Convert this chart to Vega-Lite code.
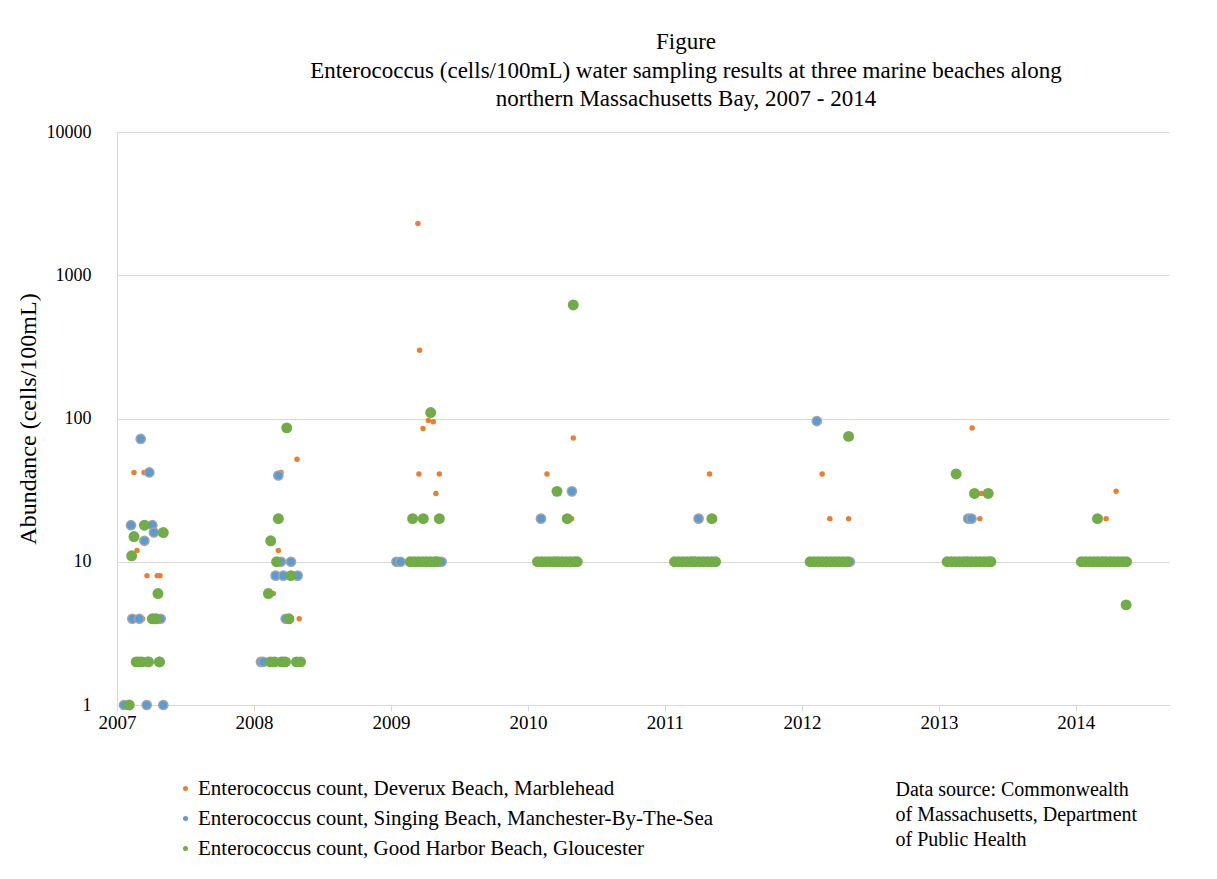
{
  "$schema": "https://vega.github.io/schema/vega-lite/v6.json",
  "width": 1052,
  "height": 573,
  "autosize": "none",
  "padding": {"left": 117, "top": 132, "right": 48, "bottom": 174},
  "background": "white",
  "config": {"view": {"stroke": null}, "font": "Liberation Serif"},
  "title": {
    "text": "Figure",
    "subtitle": ["Enterococcus (cells/100mL)  water sampling results at three marine beaches along", "northern Massachusetts  Bay, 2007 - 2014"],
    "anchor": "middle",
    "dx": 43,
    "offset": 12,
    "font": "Liberation Serif",
    "fontSize": 23,
    "fontWeight": "normal",
    "color": "black",
    "subtitleFont": "Liberation Serif",
    "subtitleFontSize": 23,
    "subtitleColor": "black",
    "subtitleLineHeight": 28,
    "subtitlePadding": 6
  },
  "data": {"values": [
    {"x": 2007.124, "y": 42, "s": "D"}, {"x": 2007.197, "y": 42, "s": "D"}, {"x": 2007.146, "y": 12, "s": "D"}, {"x": 2007.219, "y": 8, "s": "D"}, {"x": 2007.294, "y": 8, "s": "D"}, {"x": 2007.314, "y": 8, "s": "D"}, {"x": 2007.187, "y": 4, "s": "D"}, {"x": 2007.33, "y": 2, "s": "D"}, {"x": 2007.2, "y": 2, "s": "D"},
    {"x": 2008.314, "y": 52, "s": "D"}, {"x": 2008.197, "y": 42, "s": "D"}, {"x": 2008.178, "y": 12, "s": "D"}, {"x": 2008.141, "y": 6, "s": "D"}, {"x": 2008.33, "y": 4, "s": "D"}, {"x": 2008.2, "y": 2, "s": "D"},
    {"x": 2009.197, "y": 2300, "s": "D"}, {"x": 2009.209, "y": 300, "s": "D"}, {"x": 2009.273, "y": 97, "s": "D"}, {"x": 2009.309, "y": 95, "s": "D"}, {"x": 2009.234, "y": 85, "s": "D"}, {"x": 2009.204, "y": 41, "s": "D"}, {"x": 2009.353, "y": 41, "s": "D"}, {"x": 2009.328, "y": 30, "s": "D"}, {"x": 2009.2, "y": 10, "s": "D"}, {"x": 2009.3, "y": 10, "s": "D"},
    {"x": 2010.331, "y": 73, "s": "D"}, {"x": 2010.139, "y": 41, "s": "D"}, {"x": 2010.319, "y": 20, "s": "D"}, {"x": 2010.2, "y": 10, "s": "D"}, {"x": 2010.3, "y": 10, "s": "D"},
    {"x": 2011.326, "y": 41, "s": "D"}, {"x": 2011.2, "y": 10, "s": "D"},
    {"x": 2012.148, "y": 41, "s": "D"}, {"x": 2012.204, "y": 20, "s": "D"}, {"x": 2012.341, "y": 20, "s": "D"}, {"x": 2012.2, "y": 10, "s": "D"},
    {"x": 2013.243, "y": 86, "s": "D"}, {"x": 2013.31, "y": 30, "s": "D"}, {"x": 2013.299, "y": 20, "s": "D"}, {"x": 2013.2, "y": 10, "s": "D"},
    {"x": 2014.294, "y": 31, "s": "D"}, {"x": 2014.221, "y": 20, "s": "D"}, {"x": 2014.2, "y": 10, "s": "D"},

    {"x": 2007.173, "y": 72, "s": "S"}, {"x": 2007.236, "y": 42, "s": "S"}, {"x": 2007.102, "y": 18, "s": "S"}, {"x": 2007.258, "y": 18, "s": "S"}, {"x": 2007.27, "y": 16, "s": "S"}, {"x": 2007.2, "y": 14, "s": "S"}, {"x": 2007.112, "y": 4, "s": "S"}, {"x": 2007.163, "y": 4, "s": "S"}, {"x": 2007.319, "y": 4, "s": "S"}, {"x": 2007.22, "y": 2, "s": "S"}, {"x": 2007.31, "y": 2, "s": "S"}, {"x": 2007.051, "y": 1, "s": "S"}, {"x": 2007.217, "y": 1, "s": "S"}, {"x": 2007.338, "y": 1, "s": "S"},
    {"x": 2008.178, "y": 40, "s": "S"}, {"x": 2008.197, "y": 10, "s": "S"}, {"x": 2008.27, "y": 10, "s": "S"}, {"x": 2008.158, "y": 8, "s": "S"}, {"x": 2008.214, "y": 8, "s": "S"}, {"x": 2008.319, "y": 8, "s": "S"}, {"x": 2008.231, "y": 4, "s": "S"}, {"x": 2008.051, "y": 2, "s": "S"}, {"x": 2008.068, "y": 2, "s": "S"}, {"x": 2008.214, "y": 2, "s": "S"},
    {"x": 2009.04, "y": 10, "s": "S"}, {"x": 2009.07, "y": 10, "s": "S"}, {"x": 2009.37, "y": 10, "s": "S"},
    {"x": 2010.321, "y": 31, "s": "S"}, {"x": 2010.095, "y": 20, "s": "S"}, {"x": 2010.2, "y": 10, "s": "S"},
    {"x": 2011.246, "y": 20, "s": "S"}, {"x": 2011.2, "y": 10, "s": "S"},
    {"x": 2012.109, "y": 96, "s": "S"}, {"x": 2012.35, "y": 10, "s": "S"},
    {"x": 2013.214, "y": 20, "s": "S"}, {"x": 2013.238, "y": 20, "s": "S"}, {"x": 2013.2, "y": 10, "s": "S"},
    {"x": 2014.2, "y": 10, "s": "S"},

    {"x": 2007.2, "y": 18, "s": "G"}, {"x": 2007.124, "y": 15, "s": "G"}, {"x": 2007.338, "y": 16, "s": "G"}, {"x": 2007.107, "y": 11, "s": "G"}, {"x": 2007.299, "y": 6, "s": "G"}, {"x": 2007.258, "y": 4, "s": "G"}, {"x": 2007.285, "y": 4, "s": "G"}, {"x": 2007.14, "y": 2, "s": "G"}, {"x": 2007.16, "y": 2, "s": "G"}, {"x": 2007.18, "y": 2, "s": "G"}, {"x": 2007.23, "y": 2, "s": "G"}, {"x": 2007.31, "y": 2, "s": "G"}, {"x": 2007.09, "y": 1, "s": "G"},
    {"x": 2008.239, "y": 86, "s": "G"}, {"x": 2008.178, "y": 20, "s": "G"}, {"x": 2008.122, "y": 14, "s": "G"}, {"x": 2008.165, "y": 10, "s": "G"}, {"x": 2008.27, "y": 8, "s": "G"}, {"x": 2008.105, "y": 6, "s": "G"}, {"x": 2008.255, "y": 4, "s": "G"}, {"x": 2008.12, "y": 2, "s": "G"}, {"x": 2008.15, "y": 2, "s": "G"}, {"x": 2008.2, "y": 2, "s": "G"}, {"x": 2008.23, "y": 2, "s": "G"}, {"x": 2008.31, "y": 2, "s": "G"}, {"x": 2008.34, "y": 2, "s": "G"},
    {"x": 2009.29, "y": 110, "s": "G"}, {"x": 2009.158, "y": 20, "s": "G"}, {"x": 2009.236, "y": 20, "s": "G"}, {"x": 2009.353, "y": 20, "s": "G"}, {"x": 2009.14, "y": 10, "s": "G"}, {"x": 2009.17, "y": 10, "s": "G"}, {"x": 2009.2, "y": 10, "s": "G"}, {"x": 2009.23, "y": 10, "s": "G"}, {"x": 2009.26, "y": 10, "s": "G"}, {"x": 2009.29, "y": 10, "s": "G"}, {"x": 2009.32, "y": 10, "s": "G"}, {"x": 2009.34, "y": 10, "s": "G"},
    {"x": 2010.331, "y": 620, "s": "G"}, {"x": 2010.212, "y": 31, "s": "G"}, {"x": 2010.287, "y": 20, "s": "G"}, {"x": 2010.07, "y": 10, "s": "G"}, {"x": 2010.1, "y": 10, "s": "G"}, {"x": 2010.13, "y": 10, "s": "G"}, {"x": 2010.16, "y": 10, "s": "G"}, {"x": 2010.19, "y": 10, "s": "G"}, {"x": 2010.22, "y": 10, "s": "G"}, {"x": 2010.25, "y": 10, "s": "G"}, {"x": 2010.28, "y": 10, "s": "G"}, {"x": 2010.31, "y": 10, "s": "G"}, {"x": 2010.34, "y": 10, "s": "G"}, {"x": 2010.36, "y": 10, "s": "G"},
    {"x": 2011.343, "y": 20, "s": "G"}, {"x": 2011.07, "y": 10, "s": "G"}, {"x": 2011.1, "y": 10, "s": "G"}, {"x": 2011.13, "y": 10, "s": "G"}, {"x": 2011.16, "y": 10, "s": "G"}, {"x": 2011.19, "y": 10, "s": "G"}, {"x": 2011.22, "y": 10, "s": "G"}, {"x": 2011.25, "y": 10, "s": "G"}, {"x": 2011.28, "y": 10, "s": "G"}, {"x": 2011.31, "y": 10, "s": "G"}, {"x": 2011.34, "y": 10, "s": "G"}, {"x": 2011.37, "y": 10, "s": "G"},
    {"x": 2012.341, "y": 75, "s": "G"}, {"x": 2012.06, "y": 10, "s": "G"}, {"x": 2012.09, "y": 10, "s": "G"}, {"x": 2012.12, "y": 10, "s": "G"}, {"x": 2012.15, "y": 10, "s": "G"}, {"x": 2012.18, "y": 10, "s": "G"}, {"x": 2012.21, "y": 10, "s": "G"}, {"x": 2012.24, "y": 10, "s": "G"}, {"x": 2012.27, "y": 10, "s": "G"}, {"x": 2012.3, "y": 10, "s": "G"}, {"x": 2012.33, "y": 10, "s": "G"},
    {"x": 2013.126, "y": 41, "s": "G"}, {"x": 2013.26, "y": 30, "s": "G"}, {"x": 2013.36, "y": 30, "s": "G"}, {"x": 2013.06, "y": 10, "s": "G"}, {"x": 2013.09, "y": 10, "s": "G"}, {"x": 2013.12, "y": 10, "s": "G"}, {"x": 2013.15, "y": 10, "s": "G"}, {"x": 2013.18, "y": 10, "s": "G"}, {"x": 2013.21, "y": 10, "s": "G"}, {"x": 2013.24, "y": 10, "s": "G"}, {"x": 2013.27, "y": 10, "s": "G"}, {"x": 2013.3, "y": 10, "s": "G"}, {"x": 2013.33, "y": 10, "s": "G"}, {"x": 2013.36, "y": 10, "s": "G"}, {"x": 2013.38, "y": 10, "s": "G"},
    {"x": 2014.158, "y": 20, "s": "G"}, {"x": 2014.367, "y": 5, "s": "G"}, {"x": 2014.04, "y": 10, "s": "G"}, {"x": 2014.07, "y": 10, "s": "G"}, {"x": 2014.1, "y": 10, "s": "G"}, {"x": 2014.13, "y": 10, "s": "G"}, {"x": 2014.16, "y": 10, "s": "G"}, {"x": 2014.19, "y": 10, "s": "G"}, {"x": 2014.22, "y": 10, "s": "G"}, {"x": 2014.25, "y": 10, "s": "G"}, {"x": 2014.28, "y": 10, "s": "G"}, {"x": 2014.31, "y": 10, "s": "G"}, {"x": 2014.34, "y": 10, "s": "G"}, {"x": 2014.37, "y": 10, "s": "G"}
  ]},
  "encoding": {
    "x": {
      "field": "x", "type": "quantitative",
      "scale": {"domain": [2007, 2014.68], "nice": false, "zero": false},
      "axis": {
        "values": [2007, 2008, 2009, 2010, 2011, 2012, 2013, 2014],
        "format": "d",
        "grid": false,
        "labelFlush": false,
        "domainColor": "#D9D9D9",
        "tickColor": "#D9D9D9",
        "tickSize": 6,
        "labelFont": "Liberation Serif",
        "labelFontSize": 19,
        "labelColor": "black",
        "labelPadding": 2,
        "title": ["Data source: Commonwealth", "of Massachusetts, Department", "of Public Health"],
        "titleFont": "Liberation Serif",
        "titleFontSize": 20,
        "titleFontWeight": "normal",
        "titleColor": "black",
        "titleAlign": "left",
        "titleBaseline": "top",
        "titleLineHeight": 25,
        "titleX": 778,
        "titleY": 74,
        "titleAnchor": null
      }
    },
    "y": {
      "field": "y", "type": "quantitative",
      "scale": {"type": "log", "domain": [1, 10000], "nice": false},
      "axis": {
        "values": [1, 10, 100, 1000, 10000],
        "format": "d",
        "grid": true,
        "gridColor": "#D9D9D9",
        "domainColor": "#D9D9D9",
        "ticks": false,
        "labelFont": "Liberation Serif",
        "labelFontSize": 18,
        "labelColor": "black",
        "labelPadding": 26,
        "title": "Abundance  (cells/100mL)",
        "titleFont": "Liberation Serif",
        "titleFontSize": 24,
        "titleFontWeight": "normal",
        "titleColor": "black",
        "titlePadding": 6
      }
    },
    "color": {
      "field": "s", "type": "nominal",
      "scale": {"domain": ["D", "S", "G"], "range": ["#ED7D31", "#5B9BD5", "#70AD47"]},
      "legend": {
        "title": null,
        "orient": "none",
        "legendX": 58,
        "legendY": 646,
        "padding": 0,
        "symbolType": "circle",
        "symbolSize": 25,
        "symbolStrokeWidth": 0,
        "labelFont": "Liberation Serif",
        "labelFontSize": 21,
        "labelColor": "black",
        "labelOffset": 2,
        "rowPadding": 8,
        "labelLimit": 800,
        "labelExpr": "datum.value == 'D' ? 'Enterococcus count, Deverux Beach, Marblehead' : datum.value == 'S' ? 'Enterococcus count, Singing Beach, Manchester-By-The-Sea' : 'Enterococcus count, Good Harbor Beach, Gloucester'"
      }
    }
  },
  "layer": [
    {"transform": [{"filter": "datum.s == 'D'"}], "mark": {"type": "point", "filled": true, "opacity": 1, "size": 30}},
    {"transform": [{"filter": "datum.s == 'S'"}], "mark": {"type": "point", "filled": true, "opacity": 1, "size": 85, "stroke": "#A5A5A5", "strokeWidth": 1.5}},
    {"transform": [{"filter": "datum.s == 'G'"}], "mark": {"type": "point", "filled": true, "opacity": 1, "size": 120}}
  ]
}
